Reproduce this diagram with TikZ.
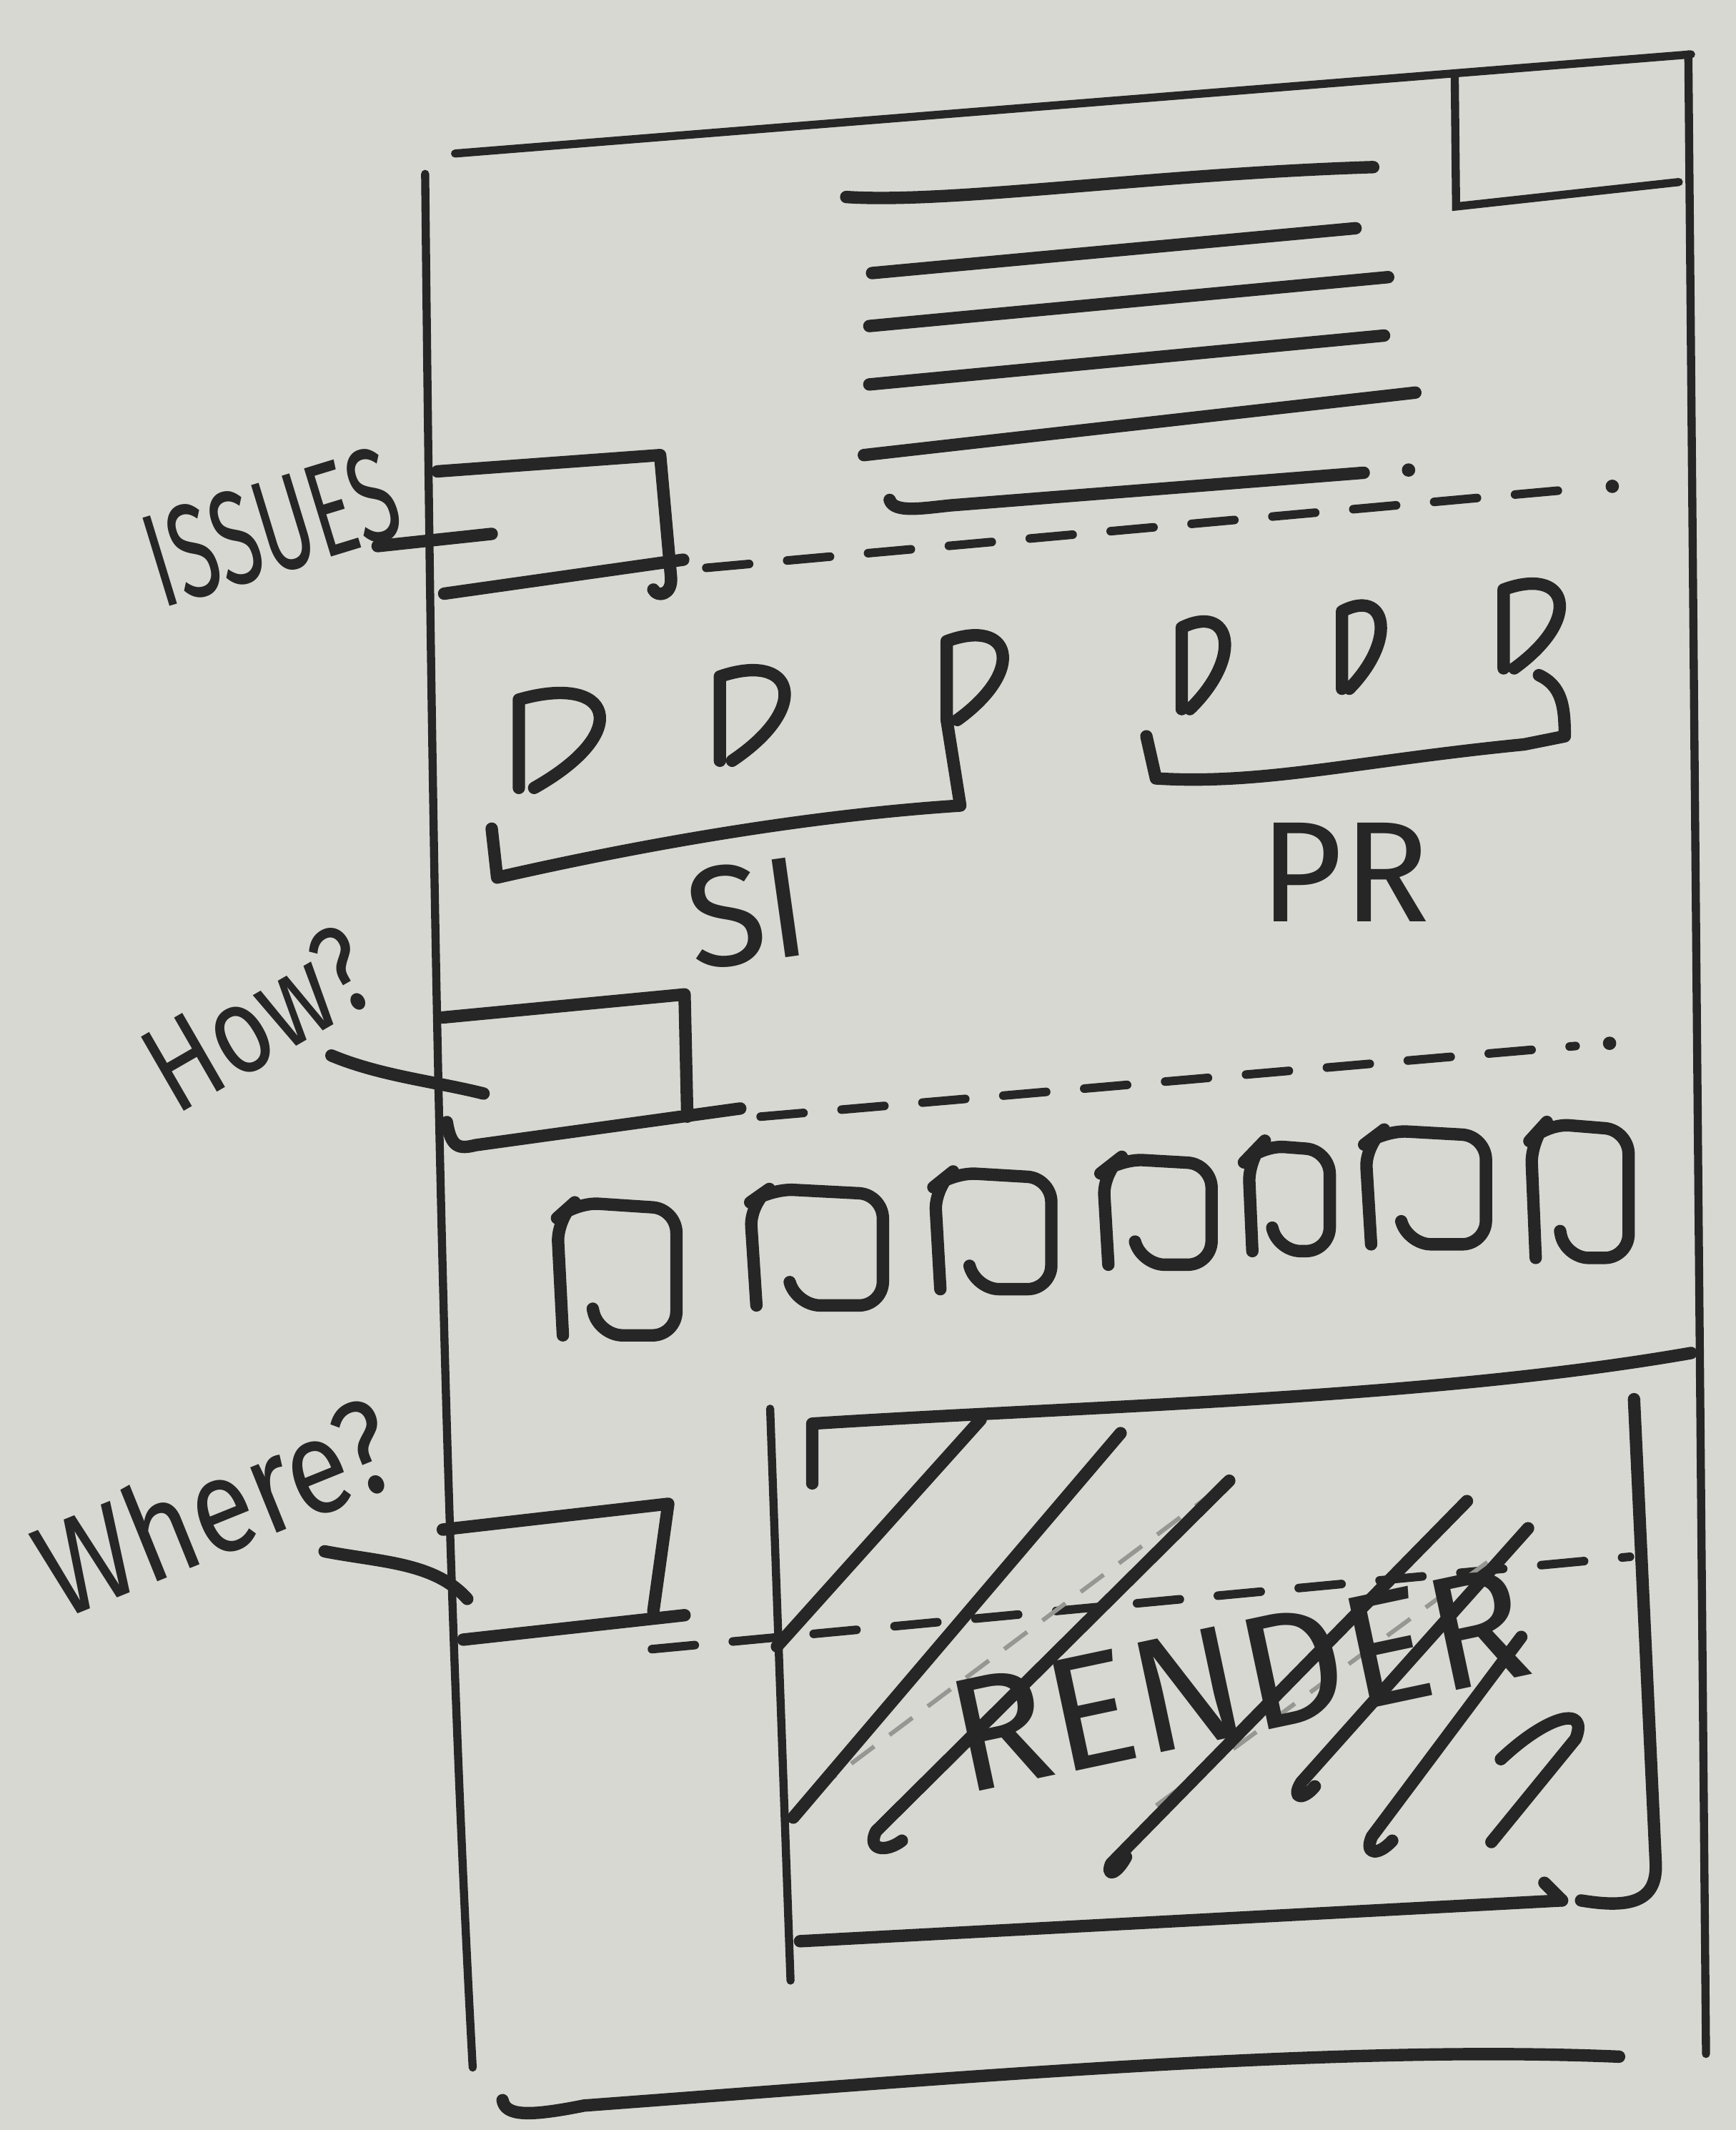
\documentclass[tikz,border=0pt]{standalone}
\usepackage{fontspec}
\setmainfont{Fira Sans}
\usepackage{xcolor}
\usepackage{tikz}
\definecolor{ink}{RGB}{38,38,38}
\definecolor{paper}{RGB}{216,216,211}
\definecolor{faint}{RGB}{150,150,146}

\begin{document}
\begin{tikzpicture}[x=0.01cm,y=-0.01cm,
  pen/.style={ink,line width=2.6pt,line cap=round,line join=round},
  frame/.style={ink,line width=1.7pt,line cap=round},
  guide/.style={ink,line width=1.8pt,dash pattern=on 9pt off 8pt,line cap=round},
  hatch/.style={faint,line width=0.9pt,dash pattern=on 6pt off 4pt},
  hand/.style={ink,inner sep=0pt,font=\fontsize{26}{26}\selectfont}]
\fill[paper] (0,0) rectangle (1278,1568);
\useasboundingbox (0,0) rectangle (1278,1568);

% page outline
\draw[frame] (335,113) -- (1245,40);
\draw[frame] (313,128) .. controls (318,600) and (325,1100) .. (348,1522);
\draw[frame] (1243,40) -- (1256,1512);
\draw[pen] (370,1546) .. controls (372,1558) and (390,1558) .. (430,1550) .. controls (700,1530) and (980,1505) .. (1192,1514);
\draw[frame] (1071,56) -- (1072,152) -- (1236,134);

% text lines
\draw[pen] (623,145) .. controls (700,150) and (850,128) .. (1011,123);
\draw[pen] (642,201) -- (998,168);
\draw[pen] (640,240) -- (1022,204);
\draw[pen] (640,283) -- (1019,247);
\draw[pen] (636,335) -- (1042,289);
\draw[pen] (655,368) .. controls (658,378) and (680,374) .. (700,372) -- (1004,348);
\fill[ink] (1037,346) circle (1.4pt);

% issues
\node[hand,font=\fontsize{28}{28}\selectfont,rotate=17] (issues) at (200,388) {\scalebox{0.62}[1]{ISSUES}};
\coordinate (issuesIn) at (278,402);
\coordinate (issuesOut) at (362,393);
\draw[pen] (issuesIn) -- (issuesOut);
\draw[pen] (322,347) -- (486,335) -- (494,425) .. controls (495,438) and (484,440) .. (481,434);
\draw[pen] (327,437) -- (503,412);
\draw[guide] (520,418) -- (1160,360);
\fill[ink] (1187,358) circle (1.4pt);

% SI and PR
\foreach \x/\y/\w/\h in {382/515/75/65, 530/498/60/62, 697/472/52/58, 870/462/40/60, 988/450/36/57, 1107/434/52/58}
  \draw[pen] (\x,\y+\h) -- (\x,\y) .. controls (\x+0.9*\w,\y-0.3*\h) and (\x+1.15*\w,\y+0.35*\h) .. (\x+0.15*\w,\y+\h);
\draw[pen] (697,530) -- (707,593) .. controls (600,600) and (480,620) .. (366,646) -- (362,610);
\draw[pen] (1133,497) .. controls (1150,505) and (1152,520) .. (1152,542) -- (1122,548) .. controls (1000,560) and (930,578) .. (851,573) -- (844,542);
\node[hand,font=\fontsize{30}{30}\selectfont,rotate=8] (si) at (550,672) {SI};
\node[hand,font=\fontsize{30}{30}\selectfont] (pr) at (990,642) {PR};

% how
\node[hand,rotate=30] (how) at (190,750) {\scalebox{0.8}[1]{How?}};
\coordinate (howIn) at (244,777);
\coordinate (howOut) at (356,805);
\draw[pen] (howIn) .. controls (280,792) and (320,796) .. (howOut);
\draw[pen] (326,749) -- (504,732) -- (506,822);
\draw[pen] (329,826) .. controls (332,845) and (338,846) .. (350,843) -- (545,816);
\draw[guide] (560,822) -- (1160,770);
\fill[ink] (1185,768) circle (1.4pt);

\foreach \x/\y/\w/\h in {410/885/88/98, 552/875/98/86, 688/863/86/86, 812/853/80/78, 919/843/60/78, 1005/832/89/84, 1127/827/72/99}
  \draw[pen,rounded corners=5pt] (\x+0.05*\w,\y+\h) -- (\x,\y+0.12*\h) -- (\x+0.15*\w,\y) -- (\x+\w,\y+0.05*\h) -- (\x+\w,\y+\h) -- (\x+0.35*\w,\y+\h) -- (\x+0.3*\w,\y+0.8*\h);

% where
\node[hand,font=\fontsize{28}{28}\selectfont,rotate=22] (where) at (158,1108) {\scalebox{0.85}[1]{Where?}};
\coordinate (whereIn) at (239,1142);
\coordinate (whereOut) at (344,1177);
\draw[pen] (whereIn) .. controls (280,1150) and (320,1150) .. (whereOut);
\draw[pen] (326,1126) -- (492,1107) -- (481,1186);
\draw[pen] (341,1207) -- (504,1189);
\draw[guide] (480,1214) -- (1200,1146);

% render panel
\draw[frame] (567,1037) -- (582,1458);
\draw[pen] (598,1092) -- (598,1048) .. controls (800,1035) and (1050,1030) .. (1245,996);
\draw[pen] (1203,1030) -- (1219,1372) .. controls (1220,1400) and (1200,1405) .. (1164,1399);
\draw[pen] (589,1429) -- (1150,1399);
\draw[pen] (1137,1386) -- (1150,1399);
\draw[hatch] (897,1096) -- (603,1316);
\draw[hatch] (1095,1150) -- (850,1330);
\draw[pen] (722,1045) -- (572,1212);
\draw[pen] (825,1055) -- (584,1338);
\draw[pen] (905,1090) -- (645,1348) .. controls (638,1362) and (652,1364) .. (664,1355);
\draw[pen] (1080,1105) -- (818,1372) .. controls (814,1382) and (822,1380) .. (829,1367);
\draw[pen] (1125,1125) -- (958,1312) .. controls (950,1325) and (960,1325) .. (968,1315);
\draw[pen] (1120,1205) -- (1010,1352) .. controls (1004,1366) and (1015,1366) .. (1025,1355);
\draw[pen] (1105,1295) .. controls (1140,1262) and (1170,1255) .. (1160,1280) -- (1098,1356);
\node[ink,inner sep=0pt,font=\fontsize{34}{34}\selectfont,rotate=12] (render) at (912,1236) {RENDER};
\end{tikzpicture}
\end{document}
